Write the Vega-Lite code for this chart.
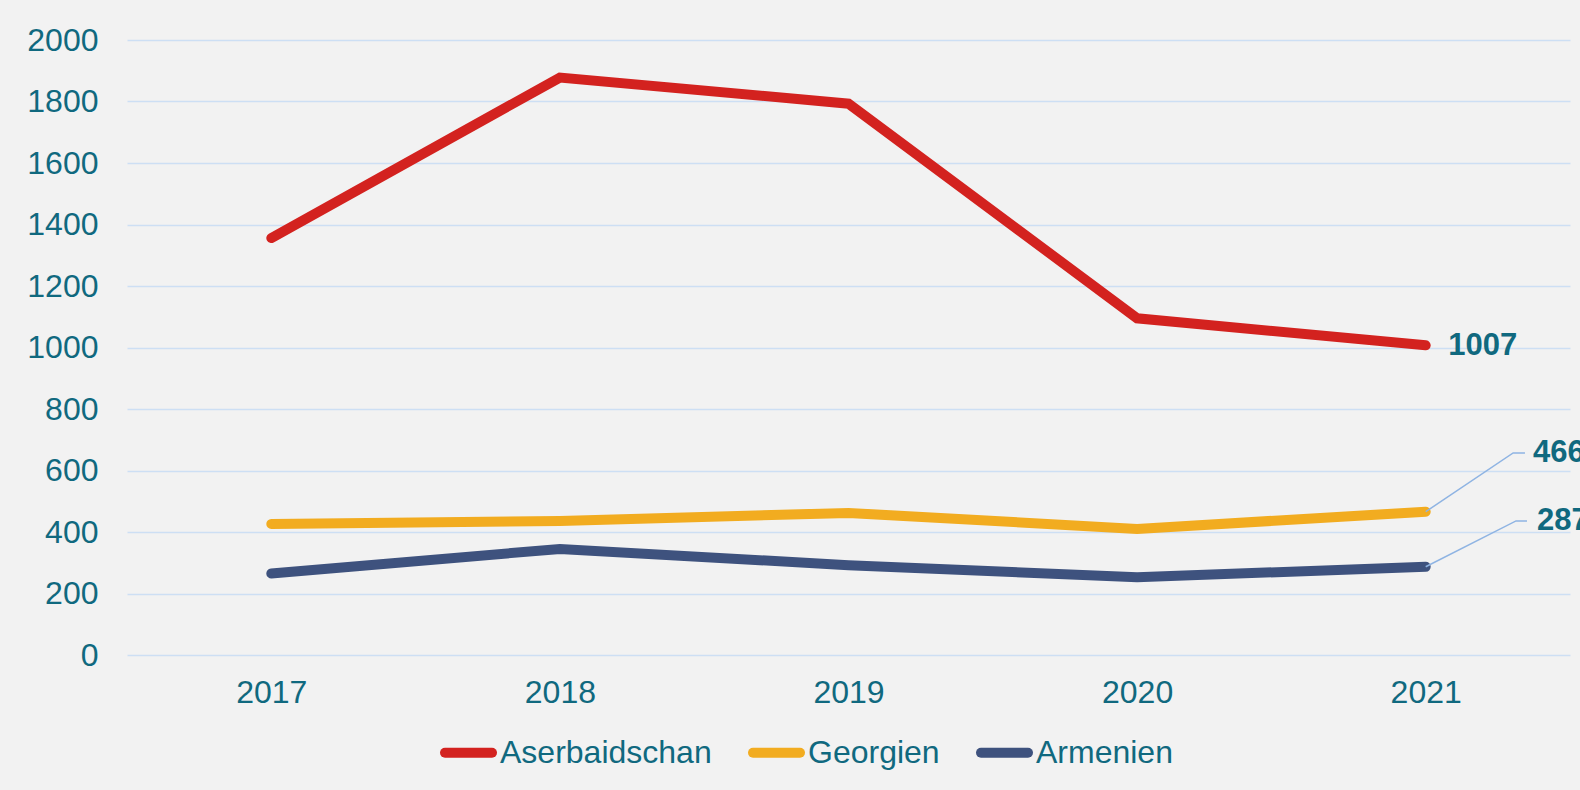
{
  "$schema": "https://vega.github.io/schema/vega-lite/v6.json",
  "autosize": {"type": "none"},
  "width": 1443,
  "height": 615,
  "padding": {"left": 127, "top": 40, "right": 10, "bottom": 135},
  "background": "#f2f2f2",
  "config": {
    "view": {"stroke": null},
    "font": "Liberation Sans",
    "axis": {"labelFont": "Liberation Sans", "labelColor": "#10697f", "labelFontSize": 32, "domain": false, "ticks": false, "title": null}
  },
  "datasets": {
    "main": [
      {"year": 2017, "series": "Aserbaidschan", "value": 1356},
      {"year": 2018, "series": "Aserbaidschan", "value": 1878},
      {"year": 2019, "series": "Aserbaidschan", "value": 1793},
      {"year": 2020, "series": "Aserbaidschan", "value": 1095},
      {"year": 2021, "series": "Aserbaidschan", "value": 1007},
      {"year": 2017, "series": "Georgien", "value": 426},
      {"year": 2018, "series": "Georgien", "value": 436},
      {"year": 2019, "series": "Georgien", "value": 462},
      {"year": 2020, "series": "Georgien", "value": 410},
      {"year": 2021, "series": "Georgien", "value": 466},
      {"year": 2017, "series": "Armenien", "value": 265},
      {"year": 2018, "series": "Armenien", "value": 345},
      {"year": 2019, "series": "Armenien", "value": 292},
      {"year": 2020, "series": "Armenien", "value": 253},
      {"year": 2021, "series": "Armenien", "value": 287}
    ],
    "leaders": [
      {"series": "Georgien", "ord": 1, "x": 2021, "y": 466},
      {"series": "Georgien", "ord": 2, "x": 2021.303, "y": 657},
      {"series": "Georgien", "ord": 3, "x": 2021.344, "y": 657},
      {"series": "Armenien", "ord": 1, "x": 2021, "y": 287},
      {"series": "Armenien", "ord": 2, "x": 2021.313, "y": 436},
      {"series": "Armenien", "ord": 3, "x": 2021.351, "y": 436}
    ],
    "labels": [
      {"series": "Aserbaidschan", "x": 2021.078, "y": 1005, "label": "1007"},
      {"series": "Georgien", "x": 2021.372, "y": 657, "label": "466"},
      {"series": "Armenien", "x": 2021.386, "y": 436, "label": "287"}
    ]
  },
  "layer": [
    {
      "data": {"name": "main"},
      "mark": {"type": "line", "strokeWidth": 10, "strokeCap": "round", "clip": false},
      "encoding": {
        "x": {"field": "year", "type": "quantitative", "scale": {"domain": [2016.5, 2021.5], "nice": false, "zero": false},
              "axis": {"values": [2017, 2018, 2019, 2020, 2021], "format": "d", "grid": false, "labelPadding": 22}},
        "y": {"field": "value", "type": "quantitative", "scale": {"domain": [0, 2000], "nice": false},
              "axis": {"values": [0, 200, 400, 600, 800, 1000, 1200, 1400, 1600, 1800, 2000], "format": "d", "grid": true, "gridColor": "#cddff4", "gridWidth": 1.6, "labelPadding": 29}},
        "color": {"field": "series", "type": "nominal",
                  "scale": {"domain": ["Aserbaidschan", "Georgien", "Armenien"], "range": ["#d3221f", "#f2ac20", "#3e527e"]},
                  "legend": {"title": null, "orient": "none", "direction": "horizontal", "legendX": 313, "legendY": 684,
                             "symbolType": "stroke", "symbolSize": 2209, "symbolStrokeWidth": 10, "labelOffset": 3, "columnPadding": 21,
                             "labelFont": "Liberation Sans", "labelFontSize": 32, "labelLimit": 400, "labelColor": "#10697f",
                             "encode": {"symbols": {"update": {"strokeCap": {"value": "round"}}}}}}
      }
    },
    {
      "data": {"name": "leaders"},
      "mark": {"type": "line", "color": "#8fb4e3", "strokeWidth": 1.5, "clip": false},
      "encoding": {
        "x": {"field": "x", "type": "quantitative"},
        "y": {"field": "y", "type": "quantitative"},
        "detail": {"field": "series"},
        "order": {"field": "ord"}
      }
    },
    {
      "data": {"name": "labels"},
      "mark": {"type": "text", "align": "left", "baseline": "middle", "fontWeight": "bold", "fontSize": 31, "color": "#10697f", "clip": false},
      "encoding": {
        "x": {"field": "x", "type": "quantitative"},
        "y": {"field": "y", "type": "quantitative"},
        "text": {"field": "label"}
      }
    }
  ]
}
